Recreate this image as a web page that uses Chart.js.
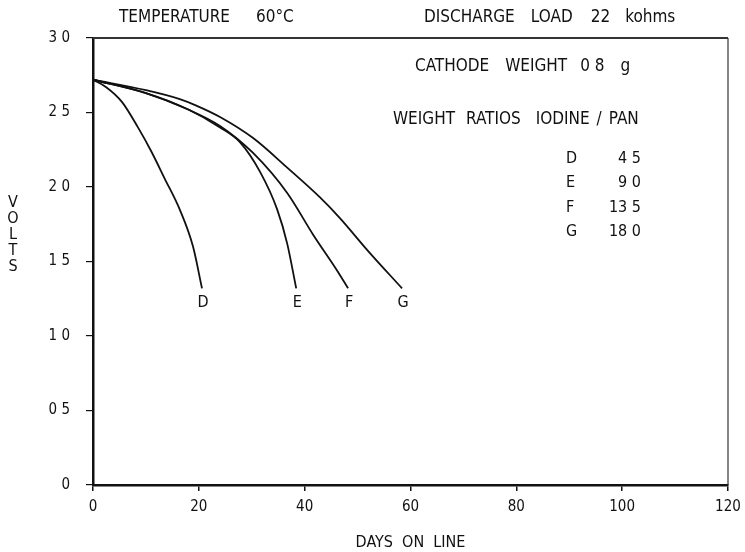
<!DOCTYPE html>
<html>
<head>
<meta charset="utf-8">
<script src="https://cdn.jsdelivr.net/npm/chart.js@4.4.1/dist/chart.umd.min.js"></script>
<style>
  html, body { margin: 0; padding: 0; background: #fff; }
  #wrap { width: 745px; height: 552px; }
</style>
</head>
<body>
<div id="wrap"><canvas id="dischargeChart"></canvas></div>
<script>
// Discharge curves, 60 C, 22 kohm load
const FONT = "'DejaVu Sans Condensed', 'Liberation Sans Narrow', sans-serif";
const INK = '#111';

const xTicks = [0, 20, 40, 60, 80, 100, 120];
const yTicks = [0, 0.5, 1.0, 1.5, 2.0, 2.5, 3.0];
const yTickLabels = ['0', '0 5', '1 0', '1 5', '2 0', '2 5', '3 0'];

const seriesNames = ['D', 'E', 'F', 'G'];
const ratios = ['4 5', '9 0', '13 5', '18 0'];

const daysD = [0, 2.5, 5.5, 8.5, 11, 13.5, 16.5, 18.9, 20.6];
const voltsD = [2.72, 2.67, 2.57, 2.40, 2.24, 2.06, 1.84, 1.60, 1.32];

const daysE = [0, 10, 18, 24, 27.8, 31.6, 34.8, 36.7, 38.4];
const voltsE = [2.72, 2.63, 2.52, 2.40, 2.30, 2.10, 1.85, 1.62, 1.32];

const daysF = [0, 10, 18, 24, 30.2, 36.7, 41.6, 46.3, 48.2];
const voltsF = [2.72, 2.63, 2.52, 2.41, 2.23, 1.96, 1.68, 1.43, 1.32];

const daysG = [0, 10, 16.4, 19.3, 24, 30.2, 36.7, 42.9, 46.7, 52, 58.4];
const voltsG = [2.72, 2.65, 2.59, 2.55, 2.47, 2.33, 2.13, 1.93, 1.79, 1.57, 1.32];

const toPoints = (xs, ys) => xs.map((x, i) => ({ x, y: ys[i] }));

const curves = [
  toPoints(daysD, voltsD),
  toPoints(daysE, voltsE),
  toPoints(daysF, voltsF),
  toPoints(daysG, voltsG),
];

// header notes: words, start x, y, gap between words
const notes = [
  [['TEMPERATURE', '60\u00B0C'], 119, 18, [26]],
  [['DISCHARGE', 'LOAD', '22', 'kohms'], 424, 18, [16, 18, 15]],
  [['CATHODE', 'WEIGHT', '0 8', 'g'], 415, 67, [16, 13, 16]],
  [['WEIGHT', 'RATIOS', 'IODINE', '/', 'PAN'], 393, 120, [11, 15, 7, 7]],
];

// ── annotations drawn on top ─────────────────────────────
const notesPlugin = {
  id: 'notes',
  afterDraw(chart) {
    const { ctx, chartArea: a, scales: { x, y } } = chart;
    ctx.save();
    ctx.fillStyle = INK;

    // frame on top and right
    ctx.strokeStyle = '#333';
    ctx.lineWidth = 2;
    ctx.beginPath();
    ctx.moveTo(a.left, a.top);
    ctx.lineTo(a.right, a.top);
    ctx.stroke();
    ctx.lineWidth = 1.2;
    ctx.beginPath();
    ctx.moveTo(a.right, a.top);
    ctx.lineTo(a.right, a.bottom);
    ctx.stroke();

    ctx.textBaseline = 'middle';
    ctx.textAlign = 'left';
    ctx.font = '17px ' + FONT;
    notes.forEach(([words, sx, ty, gaps]) => {
      let cx = sx;
      words.forEach((w, i) => {
        ctx.fillText(w, cx, ty);
        cx += ctx.measureText(w).width + (gaps[i] || 0);
      });
    });

    ctx.font = '16px ' + FONT;
    seriesNames.forEach((n, i) => {
      const ty = 159 + i * 24.3;
      ctx.textAlign = 'left';
      ctx.fillText(n, 566, ty);
      ctx.textAlign = 'right';
      ctx.fillText(ratios[i], 641, ty);
    });

    // curve end labels
    ctx.textAlign = 'center';
    curves.forEach((pts, i) => {
      const last = pts[pts.length - 1];
      ctx.fillText(seriesNames[i], x.getPixelForValue(last.x) + 1, y.getPixelForValue(1.22));
    });

    // stacked y title
    'VOLTS'.split('').forEach((c, i) => {
      ctx.fillText(c, 13, 203 + i * 16);
    });
    ctx.restore();
  }
};

new Chart(document.getElementById('dischargeChart'), {
  type: 'scatter',
  data: {
    datasets: curves.map((pts, i) => ({
      label: seriesNames[i],
      data: pts,
      showLine: true,
      borderColor: INK,
      borderWidth: 1.8,
      pointRadius: 0,
      cubicInterpolationMode: 'monotone',
      fill: false,
    }))
  },
  options: {
    responsive: true,
    maintainAspectRatio: false,
    animation: false,
    layout: { padding: { left: 0, right: 17, top: 38, bottom: 0 } },
    plugins: {
      legend: { display: false },
      tooltip: { enabled: false },
    },
    scales: {
      x: {
        type: 'linear',
        min: 0,
        max: 120,
        afterBuildTicks: (ax) => { ax.ticks = xTicks.map(v => ({ value: v })); },
        afterFit: (ax) => { ax.height = 67; ax.paddingLeft = 0; ax.paddingRight = 0; },
        grid: { drawOnChartArea: false, color: INK, tickLength: 6, lineWidth: 1.5 },
        border: { color: INK, width: 2.5 },
        ticks: { color: INK, font: { family: FONT, size: 15 }, padding: 7, maxRotation: 0 },
        title: {
          display: true,
          text: 'DAYS  ON  LINE',
          color: INK,
          font: { family: FONT, size: 16 },
          padding: { top: 8, bottom: 0 },
        },
      },
      y: {
        type: 'linear',
        min: 0,
        max: 3.0,
        afterBuildTicks: (ax) => { ax.ticks = yTicks.map(v => ({ value: v })); },
        afterFit: (ax) => { ax.width = 93; ax.paddingTop = 0; ax.paddingBottom = 0; },
        grid: { drawOnChartArea: false, color: INK, tickLength: 7, lineWidth: 1.2 },
        border: { color: INK, width: 2.5 },
        ticks: {
          color: INK,
          font: { family: FONT, size: 15 },
          padding: 16,
          callback: (v) => {
            const i = yTicks.indexOf(v);
            return i >= 0 ? yTickLabels[i] : '';
          }
        },
      },
    },
  },
  plugins: [notesPlugin],
});
</script>
</body>
</html>
